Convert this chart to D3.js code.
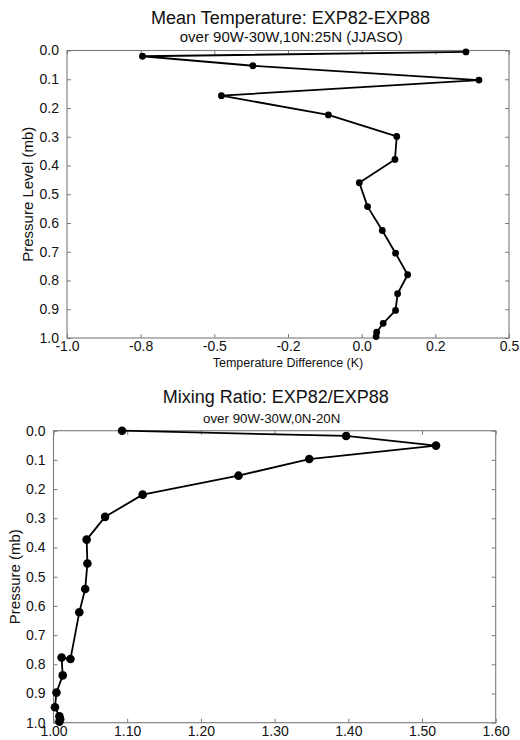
<!DOCTYPE html>
<html>
<head>
<meta charset="utf-8">
<script src="https://cdn.jsdelivr.net/npm/d3@7"></script>
<style>
  html, body { margin: 0; padding: 0; background: #fff; }
  svg { display: block; font-family: "Liberation Sans", Arial, Helvetica, sans-serif; }
</style>
</head>
<body>
<svg id="chart" width="520" height="740"></svg>
<script>
// ---------- Data ----------
// Panel 1: Mean Temperature difference EXP82-EXP88
const tempLevels = [0.005, 0.02, 0.053, 0.103, 0.157, 0.224, 0.299, 0.379, 0.46, 0.543, 0.626, 0.705, 0.78, 0.846, 0.904, 0.949, 0.98, 0.995];
const tempDiff   = [0.354, -0.744, -0.369, 0.398, -0.476, -0.113, 0.119, 0.113, -0.008, 0.020, 0.070, 0.115, 0.156, 0.122, 0.115, 0.073, 0.051, 0.049];
const tempXTicks = [-1.0, -0.75, -0.5, -0.25, 0.0, 0.25, 0.5];
const tempXLabels = ["-1.0", "-0.8", "-0.5", "-0.2", "0.0", "0.2", "0.5"];

// Panel 2: Mixing ratio EXP82/EXP88
const mixLevels = [0.0, 0.018, 0.051, 0.097, 0.154, 0.219, 0.295, 0.373, 0.455, 0.542, 0.622, 0.782, 0.777, 0.838, 0.897, 0.947, 0.978, 0.988, 0.997];
const mixRatio  = [1.093, 1.397, 1.519, 1.347, 1.251, 1.121, 1.070, 1.045, 1.046, 1.043, 1.035, 1.023, 1.011, 1.0125, 1.004, 1.002, 1.008, 1.009, 1.008];
const mixXTicks = [1.0, 1.1, 1.2, 1.3, 1.4, 1.5, 1.6];
const mixXLabels = ["1.00", "1.10", "1.20", "1.30", "1.40", "1.50", "1.60"];

const pressureTicks = [0.0, 0.1, 0.2, 0.3, 0.4, 0.5, 0.6, 0.7, 0.8, 0.9, 1.0];

// ---------- Drawing ----------
const svg = d3.select("#chart");
const frameColor = "#7a7a7a";

function panel(cfg) {
  const g = svg.append("g");
  const x = d3.scaleLinear().domain(cfg.xDomain).range([cfg.left, cfg.right]);
  const y = d3.scaleLinear().domain([0, 1]).range([cfg.top, cfg.bottom]);

  const left = g.append("g").attr("transform", `translate(${cfg.left},0)`)
    .call(d3.axisLeft(y).tickValues(pressureTicks).tickFormat(d3.format(".1f"))
      .tickSizeInner(-4).tickSizeOuter(0).tickPadding(8));
  const bottom = g.append("g").attr("transform", `translate(0,${cfg.bottom})`)
    .call(d3.axisBottom(x).tickValues(cfg.xTicks).tickFormat((d, i) => cfg.xLabels[i])
      .tickSizeInner(-4).tickSizeOuter(0).tickPadding(3));
  const right = g.append("g").attr("transform", `translate(${cfg.right},0)`)
    .call(d3.axisRight(y).tickValues(pressureTicks).tickFormat("")
      .tickSizeInner(-4).tickSizeOuter(0));
  const topA = g.append("g").attr("transform", `translate(0,${cfg.top})`)
    .call(d3.axisTop(x).tickValues(cfg.xTicks).tickFormat("")
      .tickSizeInner(-4).tickSizeOuter(0));

  [left, bottom, right, topA].forEach(a => {
    a.select(".domain").remove();
    a.selectAll(".tick line").attr("stroke", frameColor).attr("stroke-width", 1);
    a.selectAll(".tick text").attr("fill", "#111").style("font-size", "14px")
      .style("font-family", '"Liberation Sans", Arial, Helvetica, sans-serif');
  });

  g.append("rect")
    .attr("x", cfg.left).attr("y", cfg.top)
    .attr("width", cfg.right - cfg.left).attr("height", cfg.bottom - cfg.top)
    .attr("fill", "none").attr("stroke", frameColor).attr("stroke-width", 1.1);

  const pts = cfg.xs.map((v, i) => [v, cfg.ys[i]]);
  g.append("path")
    .datum(pts)
    .attr("fill", "none").attr("stroke", "#000").attr("stroke-width", 1.8)
    .attr("stroke-linejoin", "round")
    .attr("d", d3.line().x(d => x(d[0])).y(d => y(d[1])));
  g.selectAll("circle.pt").data(pts).join("circle")
    .attr("class", "pt")
    .attr("cx", d => x(d[0])).attr("cy", d => y(d[1]))
    .attr("r", cfg.r).attr("fill", "#000");

  g.append("text").attr("x", cfg.titleX).attr("y", cfg.titleY)
    .attr("text-anchor", "middle").style("font-size", "18px").attr("fill", "#111")
    .text(cfg.title);
  g.append("text").attr("x", cfg.subX).attr("y", cfg.subY)
    .attr("text-anchor", "middle").style("font-size", cfg.subSize).attr("fill", "#111")
    .text(cfg.subtitle);
  g.append("text")
    .attr("transform", `translate(${cfg.yTitleX},${(cfg.top + cfg.bottom) / 2}) rotate(-90)`)
    .attr("text-anchor", "middle").style("font-size", "15px").attr("fill", "#111")
    .text(cfg.yTitle);
  if (cfg.xTitle) {
    g.append("text").attr("x", (cfg.left + cfg.right) / 2).attr("y", cfg.xTitleY)
      .attr("text-anchor", "middle").style("font-size", "12.5px").attr("fill", "#111")
      .text(cfg.xTitle);
  }
}

panel({
  left: 67, right: 509, top: 50.5, bottom: 338,
  xDomain: [-1.0, 0.5], xTicks: tempXTicks, xLabels: tempXLabels,
  xs: tempDiff, ys: tempLevels, r: 3.4,
  title: "Mean Temperature: EXP82-EXP88", titleX: 290.5, titleY: 24,
  subtitle: "over 90W-30W,10N:25N (JJASO)", subX: 291.3, subY: 42, subSize: "15px",
  yTitle: "Pressure Level (mb)", yTitleX: 33,
  xTitle: "Temperature Difference (K)", xTitleY: 366.5
});

panel({
  left: 53.5, right: 495.7, top: 430.7, bottom: 722.7,
  xDomain: [1.0, 1.6], xTicks: mixXTicks, xLabels: mixXLabels,
  xs: mixRatio, ys: mixLevels, r: 4.3,
  title: "Mixing Ratio: EXP82/EXP88", titleX: 275.8, titleY: 403,
  subtitle: "over 90W-30W,0N-20N", subX: 271.7, subY: 423, subSize: "13.3px",
  yTitle: "Pressure (mb)", yTitleX: 20
});
</script>
</body>
</html>
